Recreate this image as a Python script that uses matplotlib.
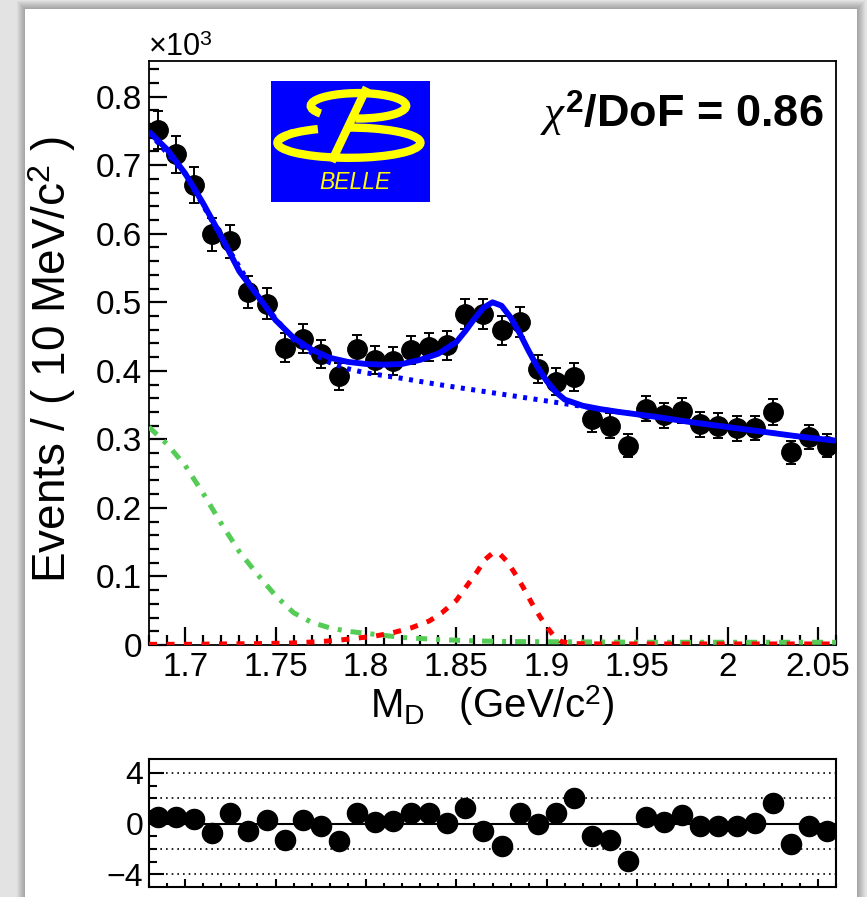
import numpy as np
import matplotlib
matplotlib.use("Agg")
import matplotlib.pyplot as plt
from matplotlib.patches import Rectangle, Arc
from matplotlib.lines import Line2D
from matplotlib.ticker import MultipleLocator, FixedLocator, FuncFormatter

plt.rcParams["font.family"] = ["Liberation Sans", "DejaVu Sans"]
plt.rcParams["mathtext.fontset"] = "custom"
plt.rcParams["mathtext.rm"] = "Liberation Sans"
plt.rcParams["mathtext.it"] = "Liberation Serif:italic"
plt.rcParams["mathtext.bf"] = "Liberation Sans:bold"

# ---- data (events per 10 MeV/c^2) ----
mass = [1.685, 1.695, 1.705, 1.715, 1.725, 1.735, 1.745, 1.755, 1.765, 1.775,
        1.785, 1.795, 1.805, 1.815, 1.825, 1.835, 1.845, 1.855, 1.865, 1.875,
        1.885, 1.895, 1.905, 1.915, 1.925, 1.935, 1.945, 1.955, 1.965, 1.975,
        1.985, 1.995, 2.005, 2.015, 2.025, 2.035, 2.045, 2.055]
counts = [751, 716, 671, 599, 589, 515, 498, 434, 447, 425,
          392, 432, 416, 415, 430, 435, 437, 483, 483, 459,
          471, 403, 384, 391, 329, 320, 291, 345, 335, 342,
          322, 320, 316, 317, 340, 281, 303, 291]
errors = [27.4, 26.8, 25.9, 24.5, 24.3, 22.7, 22.3, 20.8, 21.1, 20.6,
          19.8, 20.8, 20.4, 20.4, 20.7, 20.9, 20.9, 22.0, 22.0, 21.4,
          21.7, 20.1, 19.6, 19.8, 18.1, 17.9, 17.1, 18.6, 18.3, 18.5,
          17.9, 17.9, 17.8, 17.8, 18.4, 16.8, 17.4, 17.1]
pulls = [0.5, 0.55, 0.4, -0.75, 0.8, -0.57, 0.28, -1.3, 0.28, -0.17,
         -1.36, 0.85, 0.12, 0.18, 0.83, 0.83, 0.08, 1.2, -0.57, -1.76,
         0.8, 0.0, 0.8, 2.0, -0.96, -1.3, -2.95, 0.5, 0.15, 0.7,
         -0.17, -0.17, -0.17, 0.05, 1.6, -1.62, -0.17, -0.57]

# total fit (blue solid)
tot_x = [1.68, 1.69, 1.70, 1.71, 1.72, 1.73, 1.74, 1.75, 1.76, 1.77, 1.78, 1.79,
         1.80, 1.81, 1.82, 1.83, 1.84, 1.85, 1.855, 1.86, 1.865, 1.87, 1.875,
         1.88, 1.885, 1.89, 1.895, 1.90, 1.905, 1.91, 1.92, 1.93, 1.94, 1.96,
         1.98, 2.00, 2.02, 2.04, 2.06]
tot_y = [749, 723, 688, 644, 596, 545, 510, 474, 448, 431, 419, 413,
         410, 409, 410, 416, 425, 442, 458, 476, 492, 500, 495,
         478, 455, 429, 405, 385, 369, 358, 349, 344, 340, 333,
         325, 318, 311, 304, 298]
# background without signal (blue dotted)
bkg_x = [1.68, 1.70, 1.72, 1.74, 1.76, 1.77, 1.78, 1.79, 1.80, 1.82, 1.84,
         1.86, 1.88, 1.90, 1.92, 1.94, 1.96, 1.98, 2.00, 2.02, 2.04, 2.06]
bkg_y = [748, 687, 595, 508, 445, 426, 412, 403, 397, 389, 380,
         372, 364, 356, 348, 340, 333, 325, 318, 311, 304, 298]
# signal (red dashed)
sig_x = [1.68, 1.70, 1.72, 1.74, 1.76, 1.775, 1.785, 1.795, 1.805, 1.815,
         1.825, 1.835, 1.842, 1.85, 1.856, 1.861, 1.866, 1.870, 1.874, 1.878,
         1.882, 1.887, 1.893, 1.899, 1.904, 1.908, 1.915, 1.93, 1.96, 2.00,
         2.03, 2.06]
sig_y = [1.0, 1.0, 1.5, 2.0, 3.0, 5.0, 7.0, 10.0, 13.0, 18.0,
         25.0, 35.0, 47.0, 65.0, 87.0, 105.0, 125.0, 134.0, 133.0, 122.0,
         106.0, 84.0, 55.0, 30.0, 13.0, 5.0, 2.0, 1.5, 1.5, 1.5,
         1.5, 1.5]
# peaking background (green dash-dot)
grn_x = [1.68, 1.69, 1.70, 1.71, 1.72, 1.73, 1.74, 1.75, 1.76, 1.77, 1.78,
         1.79, 1.80, 1.82, 1.84, 1.86, 1.88, 1.92, 1.96, 2.00, 2.06]
grn_y = [318, 293, 262, 221, 177, 136, 103, 72, 47, 33, 25,
         20, 17, 11, 8, 6, 5, 4.5, 4, 4, 4]

W, H = 867, 897
fig = plt.figure(figsize=(W / 100, H / 100), dpi=100, facecolor="#e3e3e3")

# white page with soft shadow
for i in range(8, 0, -1):
    fig.patches.append(Rectangle(((25 - i) / W, -0.01), (832 + 2 * i) / W, (888 + i) / H + 0.01,
                                 transform=fig.transFigure, facecolor="black",
                                 alpha=0.035, edgecolor="none", zorder=-3))
fig.patches.append(Rectangle((25 / W, -0.01), 832 / W, 888 / H + 0.01,
                             transform=fig.transFigure, facecolor="white",
                             edgecolor="none", zorder=-2))

# ---- main frame ----
ax = fig.add_axes([149 / W, 1 - 645 / H, 687 / W, 584 / H])
ax.set_facecolor("white")
ax.set_xlim(1.68, 2.06)
ax.set_ylim(0, 0.852)

ax.errorbar(mass, np.array(counts) / 1000, yerr=np.array(errors) / 1000, fmt="o",
            color="black", ms=14, elinewidth=1.4, capsize=3.5, capthick=1.4, zorder=3)
ax.plot(bkg_x, np.array(bkg_y) / 1000, color="#0000ff", lw=3.6,
        dashes=(0.8, 1.3), zorder=4)
ax.plot(tot_x, np.array(tot_y) / 1000, color="#0000ff", lw=4.2, zorder=5,
        solid_capstyle="butt")
ax.plot(grn_x, np.array(grn_y) / 1000, color="#55cc55", lw=3.6,
        dashes=(2.2, 1.8, 0.8, 1.8), zorder=4)
ax.plot(sig_x, np.array(sig_y) / 1000, color="#ff0000", lw=3.6,
        dashes=(1.6, 1.9), zorder=4)

ax.xaxis.set_major_locator(MultipleLocator(0.05))
ax.xaxis.set_minor_locator(MultipleLocator(0.01))
ax.yaxis.set_major_locator(MultipleLocator(0.1))
ax.yaxis.set_minor_locator(MultipleLocator(0.02))
ax.xaxis.set_major_formatter(FuncFormatter(lambda v, p: f"{v:g}"))
ax.yaxis.set_major_formatter(FuncFormatter(lambda v, p: "0" if abs(v) < 1e-9 else f"{v:.1f}"))
ax.tick_params(which="both", direction="in", top=False, right=False, width=1.6,
               labelsize=24)
ax.tick_params(which="major", length=13)
ax.tick_params(which="minor", length=7)
ax.tick_params(axis="x", pad=5)
ax.tick_params(axis="y", pad=5)
for s in ax.spines.values():
    s.set_linewidth(1.3)

fig.text(148 / W, 1 - 56 / H, r"×10$^{\mathrm{3}}$", fontsize=22, va="baseline", ha="left")
fig.text(824 / W, 1 - 113 / H, r"$\chi^{\mathbf{2}}$/DoF = 0.86", fontsize=32.5,
         fontweight="bold", ha="right", va="center")
fig.text(52 / W, 1 - 360 / H, r"Events / ( 10 MeV/c$^{\mathrm{2}}$ )", fontsize=33,
         rotation=90, ha="center", va="center")
fig.text(492 / W, 1 - 706 / H, r"$\mathrm{M_{D}}$   (GeV/c$^{\mathrm{2}}$)", fontsize=29,
         ha="center", va="center")

# ---- Belle logo ----
logo = fig.add_axes([271 / W, 1 - 202 / H, 159 / W, 121 / H])
logo.set_xlim(0, 1)
logo.set_ylim(0, 1)
logo.axis("off")
logo.add_patch(Rectangle((0, 0), 1, 1, facecolor="#0000ff", edgecolor="none"))
yel = "#ffff00"
logo.add_patch(Arc((0.55, 0.795), 0.60, 0.21, theta1=-100, theta2=195, color=yel, lw=6))
logo.add_patch(Arc((0.49, 0.49), 0.90, 0.25, theta1=150, theta2=95, color=yel, lw=6))
logo.add_line(Line2D([0.591, 0.392], [0.915, 0.364], color=yel, lw=6))
logo.add_line(Line2D([0.255, 0.29], [0.78, 0.745], color=yel, lw=5.5, solid_capstyle="round"))
logo.add_line(Line2D([0.06, 0.13], [0.52, 0.57], color=yel, lw=5.5, solid_capstyle="round"))
logo.text(0.53, 0.16, "BELLE", color=yel, fontsize=16.5, style="italic",
          ha="center", va="center")

# ---- pull frame ----
pax = fig.add_axes([149 / W, 1 - 887 / H, 687 / W, 128 / H])
pax.set_xlim(1.68, 2.06)
pax.set_ylim(-5, 5.1)
pax.axhline(0, color="black", lw=1.5, zorder=1)
for v in [-4, -2, 2, 4]:
    pax.axhline(v, color="black", lw=1.2, dashes=(1, 2.4), zorder=1)
pax.plot(mass, pulls, "o", color="black", ms=14.5, zorder=3)
pax.xaxis.set_major_locator(MultipleLocator(0.05))
pax.xaxis.set_minor_locator(MultipleLocator(0.01))
pax.yaxis.set_major_locator(FixedLocator([-4, 0, 4]))
pax.yaxis.set_minor_locator(FixedLocator([-3, -2, -1, 1, 2, 3]))
pax.yaxis.set_major_formatter(FuncFormatter(lambda v, p: f"{v:g}".replace("-", "\u2212")))
pax.tick_params(which="both", direction="in", top=False, right=False, width=1.5,
                labelsize=23, labelbottom=False)
pax.tick_params(axis="y", which="major", length=11, pad=4)
pax.tick_params(axis="y", which="minor", length=6)
pax.tick_params(axis="x", which="major", length=6)
pax.tick_params(axis="x", which="minor", length=3)
for s in pax.spines.values():
    s.set_linewidth(1.5)

fig.savefig("out.png", dpi=100, facecolor=fig.get_facecolor())
